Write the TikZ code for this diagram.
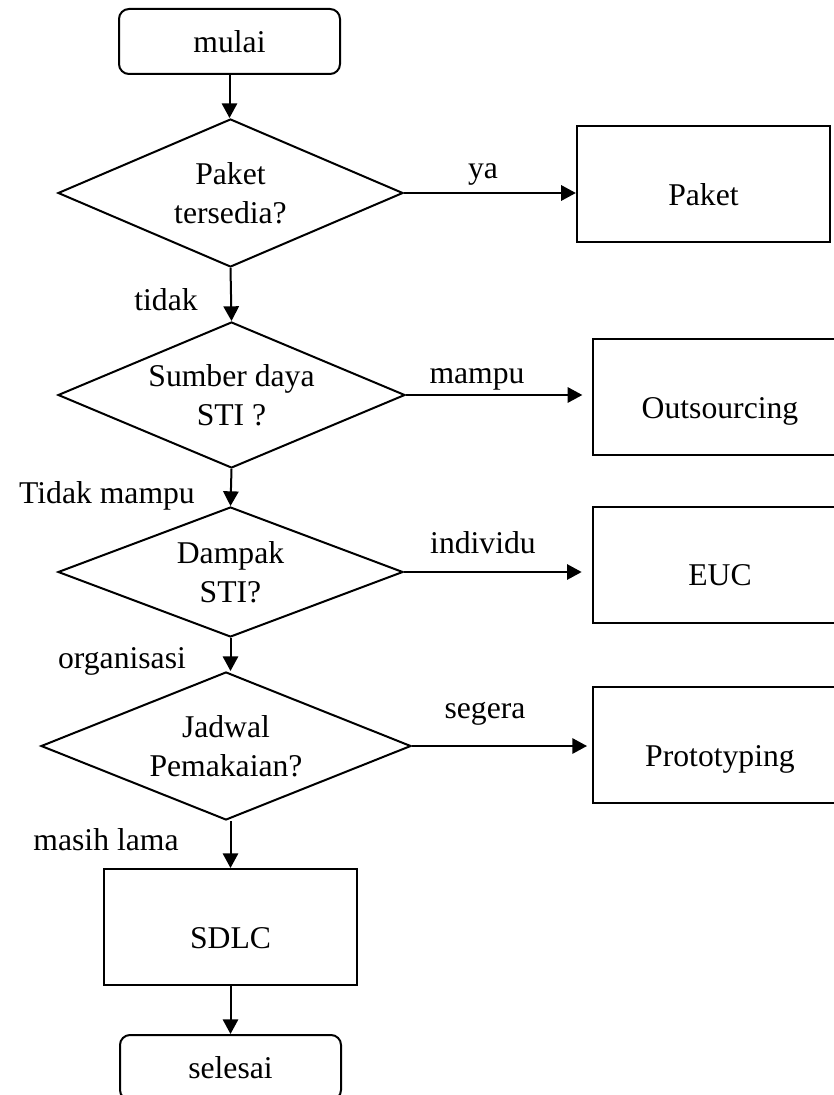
\documentclass[tikz,border=0pt]{standalone}
\usepackage{fontspec}
\setmainfont{Liberation Serif}
\usetikzlibrary{shapes.geometric,arrows.meta}

\begin{document}
\begin{tikzpicture}[x=0.75pt,y=-0.75pt,
  every node/.style={font=\fontsize{23.75pt}{28.9pt}\selectfont},
  base/.style={draw, line width=1.5pt, inner sep=0pt},
  term/.style={base, rounded corners=7.5pt, minimum width=165.75pt, minimum height=48.75pt},
  decision/.style={base, diamond, align=center, aspect=2.4},
  procbox/.style={base, rectangle, minimum width=190pt, minimum height=87pt,
                  text height=32pt, text depth=0pt},
  flow/.style={line width=1.5pt, -{Triangle[length=11pt,width=11.5pt]}},
  tag/.style={anchor=base}]

\useasboundingbox (0,0) rectangle (834,1095);
\clip (0,0) rectangle (834,1095);

% main column
\node[term] (start) at (229.5,41.5) {mulai};
\node[decision, minimum width=258.75pt, minimum height=111pt] (d1) at (230.5,193) {Paket\\tersedia?};
\node[decision, minimum width=260.25pt, minimum height=109.5pt] (d2) at (231.5,395) {Sumber daya\\STI ?};
\node[decision, minimum width=258.75pt, minimum height=97.5pt] (d3) at (230.5,572) {Dampak\\STI?};
\node[decision, minimum width=277.5pt, minimum height=111pt] (d4) at (226,746) {Jadwal\\Pemakaian?};
\node[procbox] (sdlc) at (230.5,927) {SDLC};
\node[term] (stop) at (230.5,1067.5) {selesai};

% outcomes on the right
\node[procbox] (paket) at (703.5,184) {Paket};
\node[procbox] (outs) at (720,397) {Outsourcing};
\node[procbox] (euc) at (720,564.5) {EUC};
\node[procbox] (proto) at (720,745) {Prototyping};

% vertical flow
\draw[flow] (start.south) -- (start.south |- d1.north);
\draw[flow] (d1.south) -- (d2.north);
\draw[flow] (d2.south) -- (d3.north);
\draw[flow] (d3.south) -- (d3.south |- d4.north);
\draw[flow] (sdlc.north |- d4.south) -- (sdlc.north);
\draw[flow] (sdlc.south) -- (stop.north);

% branches
\draw[flow] (d1.east) -- (d1.east -| paket.west);
\draw[flow, shorten >=7.5pt] (d2.east) -- (d2.east -| outs.west);
\draw[flow, shorten >=8pt] (d3.east) -- (d3.east -| euc.west);
\draw[flow, shorten >=4pt] (d4.east) -- (d4.east -| proto.west);

% branch labels
\node[tag] (l-ya) at (483,178) {ya};
\node[tag] (l-tidak) at (166,310) {tidak};
\node[tag] (l-mampu) at (477,383) {mampu};
\node[tag] (l-tm) at (107,503) {Tidak mampu};
\node[tag] (l-ind) at (483,553) {individu};
\node[tag] (l-org) at (122,668) {organisasi};
\node[tag] (l-seg) at (485,718) {segera};
\node[tag] (l-ml) at (106,850) {masih lama};
\end{tikzpicture}
\end{document}
